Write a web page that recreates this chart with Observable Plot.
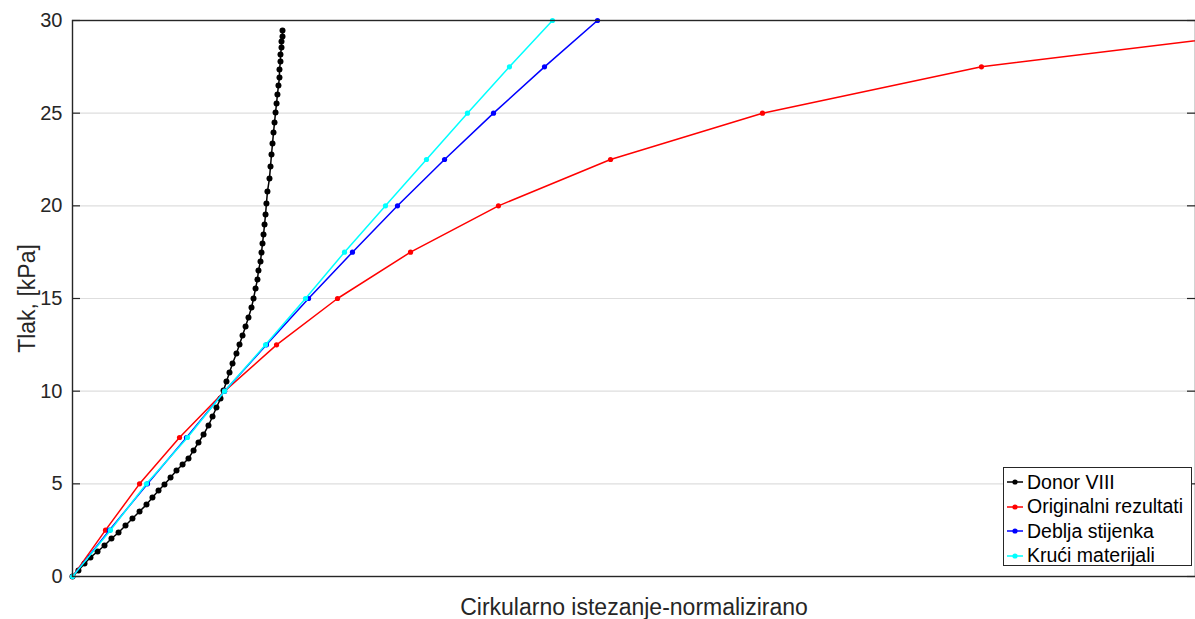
<!DOCTYPE html>
<html>
<head>
<meta charset="utf-8">
<script src="https://cdn.jsdelivr.net/npm/d3@7"></script>
<script src="https://cdn.jsdelivr.net/npm/@observablehq/plot@0.6"></script>
<style>
  html, body { margin: 0; padding: 0; background: #fff; }
  #wrap { position: relative; width: 1195px; height: 619px; font-family: "Liberation Sans", Arial, Helvetica, sans-serif; }
  #legend { position: absolute; left: 1003px; top: 467px; width: 189px; height: 99px; background: #fff;
            border: 1px solid #262626; box-sizing: border-box; padding-top: 2px; }
  .entry { display: flex; align-items: center; height: 24.5px; font-size: 19.5px; color: #000; white-space: nowrap; }
  .entry svg { margin-left: 2px; margin-right: 3px; flex: none; }
</style>
</head>
<body>
<div id="wrap"></div>
<script>
// ---- data ----
const seriesNames = ["Donor VIII", "Originalni rezultati", "Deblja stijenka", "Krući materijali"];
const seriesColors = ["#000000", "#ff0000", "#0000ff", "#00ffff"];

const yTicks = [0, 5, 10, 15, 20, 25, 30];
const gridTicks = [5, 10, 15, 20, 25];

// pressure levels of the model series [kPa]
const modelPressure = [0, 2.5, 5, 7.5, 10, 12.5, 15, 17.5, 20, 22.5, 25, 27.5, 30];
// normalized circumferential strain for each model series
const originalStrain = [0, 0.0294, 0.0597, 0.0953, 0.1354, 0.1817, 0.2360, 0.3010, 0.3793, 0.4791, 0.6144, 0.8094, 1.147];
const thickerStrain  = [0, 0.0329, 0.0668, 0.1015, 0.1354, 0.1727, 0.2102, 0.2493, 0.2894, 0.3313, 0.3749, 0.4203, 0.4675];
const stifferStrain  = [0, 0.0338, 0.0659, 0.1024, 0.1354, 0.1719, 0.2075, 0.2422, 0.2787, 0.3152, 0.3517, 0.3891, 0.4274];

// donor measurement
const donorStrain = [0, 0.0053, 0.0107, 0.0160, 0.0223, 0.0285, 0.0347, 0.0410, 0.0472, 0.0534,
  0.0597, 0.0659, 0.0712, 0.0766, 0.0819, 0.0873, 0.0926, 0.0980, 0.1033, 0.1078,
  0.1122, 0.1167, 0.1211, 0.1247, 0.1282, 0.1318, 0.1345, 0.1371, 0.1398, 0.1425,
  0.1460, 0.1487, 0.1514, 0.1541, 0.1567, 0.1594, 0.1612, 0.1630, 0.1647, 0.1656,
  0.1674, 0.1683, 0.1692, 0.1701, 0.1710, 0.1719, 0.1727, 0.1736, 0.1754, 0.1763,
  0.1772, 0.1781, 0.1790, 0.1799, 0.1808, 0.1817, 0.1825, 0.1834, 0.1843, 0.1843,
  0.1852, 0.1852, 0.1861, 0.1861, 0.1870, 0.1870];
const donorPressure = [0, 0.32, 0.70, 1.03, 1.35, 1.67, 2.05, 2.37, 2.75, 3.13,
  3.51, 3.88, 4.26, 4.64, 4.96, 5.34, 5.72, 6.04, 6.37, 6.80,
  7.23, 7.66, 8.15, 8.63, 9.12, 9.60, 10.04, 10.52, 11.01, 11.49,
  12.03, 12.52, 13.00, 13.49, 13.98, 14.51, 15.00, 15.54, 16.03, 16.51,
  17.00, 17.48, 17.97, 18.45, 18.99, 19.53, 20.13, 20.77, 21.48, 22.12,
  22.77, 23.36, 23.96, 24.50, 25.04, 25.52, 26.01, 26.49, 26.93, 27.36,
  27.79, 28.17, 28.54, 28.87, 29.14, 29.46];

const xLabel = "Cirkularno istezanje-normalizirano";
const yLabel = "Tlak, [kPa]";

// ---- table ----
const rows = [];
donorStrain.forEach((s, i) => rows.push({series: seriesNames[0], strain: s, pressure: donorPressure[i]}));
[originalStrain, thickerStrain, stifferStrain].forEach((arr, k) =>
  arr.forEach((s, i) => rows.push({series: seriesNames[k + 1], strain: s, pressure: modelPressure[i]})));

const W = 1195, H = 619, ML = 72, MR = 0, MT = 20, MB = 43;
const tickLen = 8;
const innerW = W - ML - MR;

const marks = [
  Plot.ruleY(gridTicks, {stroke: "#dedede", strokeWidth: 1.2}),
  Plot.tickY(yTicks, {y: d => d, stroke: "#262626", strokeWidth: 1.2, insetRight: innerW - tickLen}),
  Plot.tickY(yTicks, {y: d => d, stroke: "#262626", strokeWidth: 1.2, insetLeft: innerW - tickLen}),
  Plot.axisY({ticks: yTicks, tickSize: 0, tickPadding: 10, fontSize: 20, label: null}),
  Plot.text([xLabel], {frameAnchor: "bottom", textAnchor: "middle", lineAnchor: "middle", dy: 31, fontSize: 23, fill: "#262626"}),
  Plot.text([yLabel], {frameAnchor: "left", textAnchor: "middle", lineAnchor: "middle", dx: -45, rotate: -90, fontSize: 23, fill: "#262626"})
];
seriesNames.forEach((name, k) => {
  const data = rows.filter(r => r.series === name);
  marks.push(Plot.line(data, {x: "strain", y: "pressure", stroke: seriesColors[k], strokeWidth: 1.5, clip: true}));
  marks.push(Plot.dot(data, {x: "strain", y: "pressure", fill: seriesColors[k], r: k === 0 ? 3 : 2.6}));
});
marks.push(Plot.frame({stroke: "#262626", strokeWidth: 1.4}));

const chart = Plot.plot({
  width: W, height: H,
  marginLeft: ML, marginRight: MR, marginTop: MT, marginBottom: MB,
  style: {fontFamily: '"Liberation Sans", Arial, Helvetica, sans-serif', fontSize: "20px", color: "#262626", background: "#fff", overflow: "visible"},
  x: {domain: [0, 1], axis: null},
  y: {domain: [0, 30]},
  marks
});
const wrap = document.getElementById("wrap");
wrap.appendChild(chart);

// ---- legend ----
const legend = d3.select(wrap).append("div").attr("id", "legend");
seriesNames.forEach((name, k) => {
  const e = legend.append("div").attr("class", "entry");
  const s = e.append("svg").attr("width", 18).attr("height", 10);
  s.append("line").attr("x1", 1).attr("x2", 17).attr("y1", 5).attr("y2", 5).attr("stroke", seriesColors[k]).attr("stroke-width", 1.5);
  s.append("circle").attr("cx", 9).attr("cy", 5).attr("r", 2.6).attr("fill", seriesColors[k]);
  e.append("span").text(name);
});
</script>
</body>
</html>
